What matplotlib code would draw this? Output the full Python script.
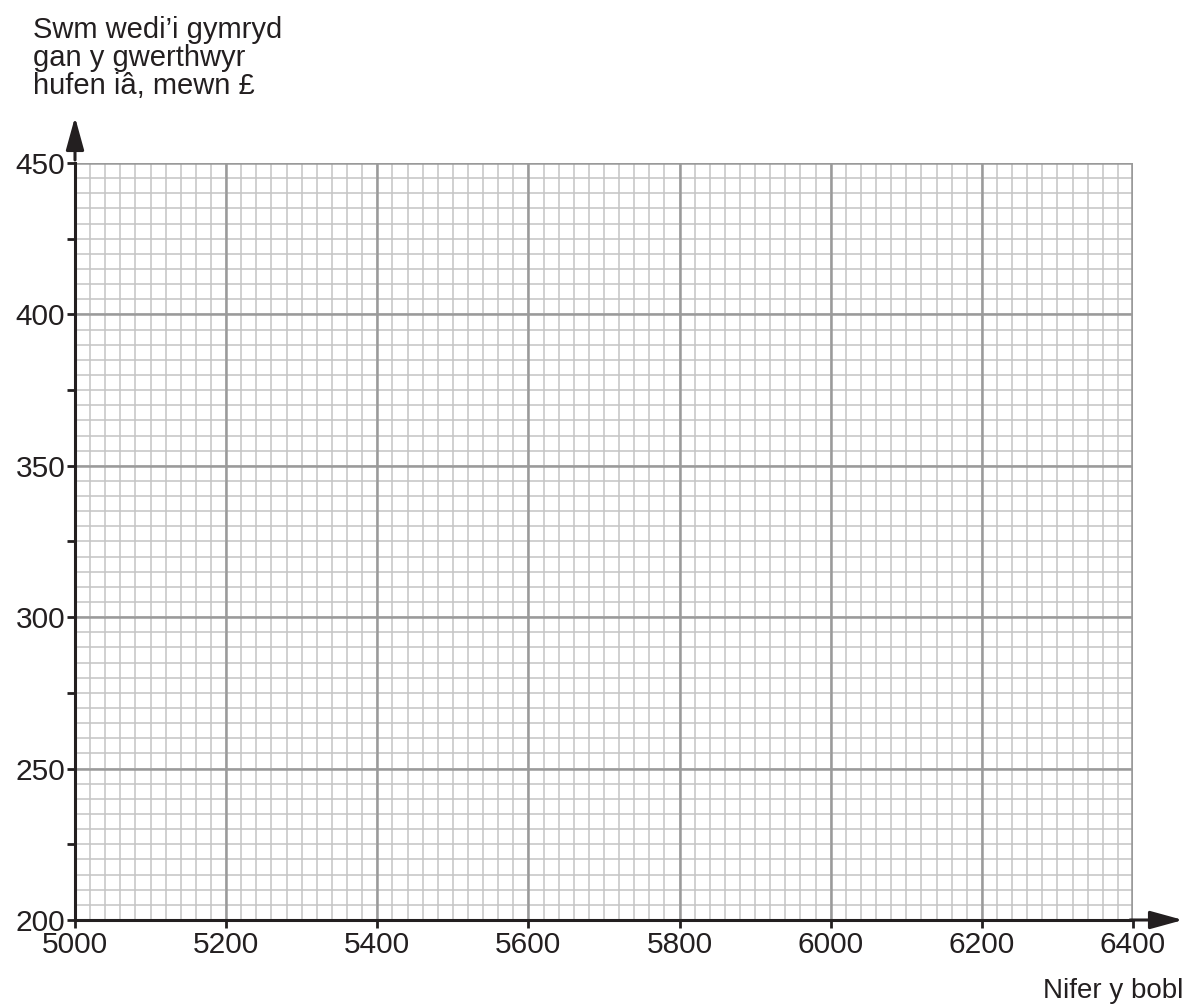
import matplotlib
matplotlib.use("Agg")
import matplotlib.pyplot as plt
import numpy as np
from matplotlib.ticker import FixedLocator

plt.rcParams['font.family'] = ['Liberation Sans', 'DejaVu Sans']

x_min, x_max = 5000, 6400
y_min, y_max = 200, 450
x_major = [5000, 5200, 5400, 5600, 5800, 6000, 6200, 6400]
y_labels = [200, 250, 300, 350, 400, 450]
y_ticks = [200, 225, 250, 275, 300, 325, 350, 375, 400, 425, 450]
x_minor_step = 20
y_minor_step = 5
y_title = "Swm wedi\u2019i gymryd\ngan y gwerthwyr\nhufen i\u00e2, mewn \u00a3"
x_title = "Nifer y bobl"

fig = plt.figure(figsize=(11.94, 10.06), dpi=100)
ax = fig.add_axes([75/1194, 1-920/1006, (1133-75)/1194, (920-163)/1006])
ax.set_xlim(x_min, x_max)
ax.set_ylim(y_min, y_max)

# minor grid
for xv in np.arange(x_min, x_max + 1, x_minor_step):
    ax.axvline(xv, color='#c4c4c4', lw=1.1, zorder=1)
for yv in np.arange(y_min, y_max + 1, y_minor_step):
    ax.axhline(yv, color='#c4c4c4', lw=1.1, zorder=1)
# major grid
for xv in x_major:
    ax.axvline(xv, color='#9a9a9a', lw=1.8, zorder=2)
for yv in y_labels:
    ax.axhline(yv, color='#9a9a9a', lw=1.8, zorder=2)
ax.axvline(x_max, color='#9a9a9a', lw=2.6, zorder=2)

for s in ['top', 'right']:
    ax.spines[s].set_visible(False)
for s in ['left', 'bottom']:
    ax.spines[s].set_color('#231f20')
    ax.spines[s].set_linewidth(2.2)
    ax.spines[s].set_zorder(5)

ax.xaxis.set_major_locator(FixedLocator(x_major))
ax.yaxis.set_major_locator(FixedLocator(y_ticks))
ax.set_xticklabels([str(v) for v in x_major])
ax.set_yticklabels([str(v) if v in y_labels else '' for v in y_ticks])
ax.tick_params(axis='both', direction='out', length=6, width=2, color='#231f20',
               labelsize=21.5, labelcolor='#231f20', pad=1)
ax.tick_params(axis='x', pad=2)

# arrows
ax.annotate('', xy=(75/1194, 1-117/1006), xytext=(75/1194, 1-160/1006),
            xycoords='figure fraction',
            arrowprops=dict(arrowstyle='-|>,head_length=2.0,head_width=0.55',
                            color='#231f20', lw=2.2, shrinkA=0, shrinkB=0))
ax.annotate('', xy=(1183/1194, 1-920/1006), xytext=(1130/1194, 1-920/1006),
            xycoords='figure fraction',
            arrowprops=dict(arrowstyle='-|>,head_length=2.0,head_width=0.55',
                            color='#231f20', lw=2.2, shrinkA=0, shrinkB=0))

fig.text(33/1194, 1-16/1006, y_title, ha='left', va='top', fontsize=21,
         color='#231f20', linespacing=1.0, multialignment='left')
fig.text(1183/1194, 1-998/1006, x_title, ha='right', va='baseline', fontsize=20,
         color='#231f20')

fig.savefig('out.png', dpi=100, facecolor='white')
